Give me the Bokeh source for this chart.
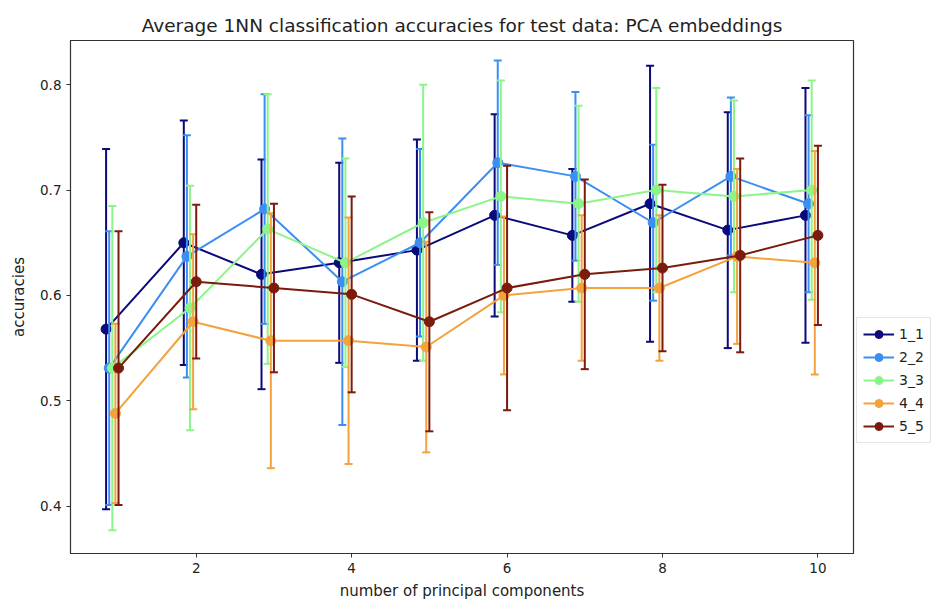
import numpy as np
from bokeh.plotting import figure
from bokeh.layouts import row
from bokeh.models import ColumnDataSource, FixedTicker, Legend, LegendItem
from bokeh.embed import file_html
from bokeh.resources import INLINE

# ---- data ----
n_components = [1, 2, 3, 4, 5, 6, 7, 8, 9, 10]
series_names = ["1_1", "2_2", "3_3", "4_4", "5_5"]

acc_1_1 = [0.568, 0.650, 0.620, 0.631, 0.643, 0.676, 0.657, 0.687, 0.662, 0.676]
err_1_1 = [0.171, 0.116, 0.109, 0.095, 0.105, 0.096, 0.063, 0.131, 0.112, 0.121]

acc_2_2 = [0.531, 0.637, 0.682, 0.613, 0.650, 0.726, 0.713, 0.669, 0.713, 0.687]
err_2_2 = [0.130, 0.115, 0.109, 0.136, 0.089, 0.097, 0.080, 0.074, 0.075, 0.084]

acc_3_3 = [0.531, 0.588, 0.663, 0.631, 0.669, 0.694, 0.687, 0.700, 0.694, 0.700]
err_3_3 = [0.154, 0.116, 0.128, 0.099, 0.131, 0.110, 0.093, 0.097, 0.091, 0.104]

acc_4_4 = [0.488, 0.575, 0.557, 0.557, 0.551, 0.600, 0.607, 0.607, 0.637, 0.631]
err_4_4 = [0.085, 0.083, 0.121, 0.117, 0.100, 0.075, 0.069, 0.069, 0.083, 0.106]

acc_5_5 = [0.531, 0.613, 0.607, 0.601, 0.575, 0.607, 0.620, 0.626, 0.638, 0.657]
err_5_5 = [0.130, 0.073, 0.080, 0.093, 0.104, 0.116, 0.090, 0.079, 0.092, 0.085]

x_offsets = [-0.16, -0.12, -0.08, -0.04, 0.0]
colors = ["#0a0a7a", "#3b8ff3", "#8cf58a", "#f4a23c", "#7a1b0e"]

accs = [acc_1_1, acc_2_2, acc_3_3, acc_4_4, acc_5_5]
errs = [err_1_1, err_2_2, err_3_3, err_4_4, err_5_5]

FONT = "DejaVu Sans"

p = figure(width=856, height=607, output_backend="svg", toolbar_location=None,
           x_range=(0.382, 10.458), y_range=(0.355, 0.842),
           title="Average 1NN classification accuracies for test data: PCA embeddings",
           min_border_left=70, min_border_right=3, min_border_top=40, min_border_bottom=54)

p.title.align = "center"
p.title.vertical_align = "top"
p.title.text_font = FONT
p.title.text_font_size = "18.5px"
p.title.text_font_style = "normal"
p.title.text_color = "#222222"
p.title.standoff = 6

p.xgrid.visible = False
p.ygrid.visible = False
p.outline_line_color = "#333333"
p.outline_line_width = 1.2

p.xaxis.ticker = FixedTicker(ticks=[2, 4, 6, 8, 10])
p.yaxis.ticker = FixedTicker(ticks=[0.4, 0.5, 0.6, 0.7, 0.8])
p.xaxis.axis_label = "number of principal components"
p.yaxis.axis_label = "accuracies"
for ax in (p.xaxis, p.yaxis):
    ax.axis_label_text_font = FONT
    ax.axis_label_text_font_size = "15px"
    ax.axis_label_text_font_style = "normal"
    ax.axis_label_text_color = "#222222"
    ax.major_label_text_font = FONT
    ax.major_label_text_font_size = "13.5px"
    ax.major_label_text_color = "#222222"
    ax.minor_tick_line_color = None
    ax.major_tick_in = 0
    ax.major_tick_out = 4
    ax.major_tick_line_color = "#333333"
    ax.axis_line_color = "#333333"
p.xaxis.axis_label_standoff = 6
p.yaxis.axis_label_standoff = 9

# legend lives in a narrow companion figure so it is not clipped by the frame
p2 = figure(width=80, height=607, output_backend="svg", toolbar_location=None,
            x_range=(0, 1), y_range=(0, 1),
            min_border_left=0, min_border_right=0, min_border_top=0, min_border_bottom=0)
p2.axis.visible = False
p2.grid.visible = False
p2.outline_line_color = None

legend_items = []
for name, acc, err, off, col in zip(series_names, accs, errs, x_offsets, colors):
    xs = [v + off for v in n_components]
    lo = [a - e for a, e in zip(acc, err)]
    hi = [a + e for a, e in zip(acc, err)]
    src = ColumnDataSource(dict(x=xs, y=acc, lo=lo, hi=hi))
    p.segment(x0="x", y0="lo", x1="x", y1="hi", source=src, line_color=col, line_width=2)
    p.scatter(x="x", y="lo", source=src, marker="dash", size=8, line_color=col, line_width=2)
    p.scatter(x="x", y="hi", source=src, marker="dash", size=8, line_color=col, line_width=2)
    p.line(x="x", y="y", source=src, line_color=col, line_width=2)
    p.scatter(x="x", y="y", source=src, marker="circle", size=10,
              fill_color=col, line_color=col)

    # off-range proxy glyphs (clipped away) that only supply the legend swatches
    proxy = ColumnDataSource(dict(x=[-5, -6], y=[-5, -6]))
    l_line = p2.line(x="x", y="y", source=proxy, line_color=col, line_width=2)
    l_bar = p2.scatter(x="x", y="y", source=proxy, marker="dash", angle=np.pi / 2,
                       size=14, line_color=col, line_width=2)
    l_pt = p2.scatter(x="x", y="y", source=proxy, marker="circle", size=10,
                      fill_color=col, line_color=col)
    legend_items.append(LegendItem(label=name, renderers=[l_line, l_bar, l_pt]))

legend = Legend(items=legend_items, location=(0, 110))
legend.label_text_font = FONT
legend.label_text_font_size = "14px"
legend.label_text_color = "#222222"
legend.glyph_width = 31
legend.glyph_height = 20
legend.spacing = 3
legend.padding = 6
legend.margin = 0
legend.border_line_color = "#cccccc"
legend.background_fill_alpha = 1.0
p2.add_layout(legend, "center")

layout = row(p, p2, spacing=0)
open("out.html", "w").write(file_html(layout, INLINE))
